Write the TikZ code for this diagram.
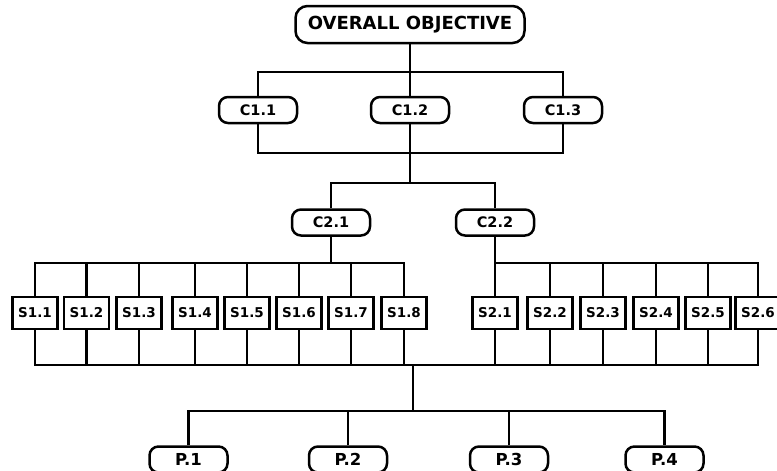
\documentclass[tikz,border=0pt]{standalone}
\usepackage{fontspec}
\setmainfont{DejaVu Sans}
\begin{document}
\begin{tikzpicture}[x=1pt,y=-1pt,
  wire/.style={line width=2.3pt},
  pill/.style={draw, line width=2.5pt, rectangle, rounded corners=9pt,
    minimum width=78pt, minimum height=26pt, inner sep=0pt,
    font=\bfseries\fontsize{14.5}{14.5}\selectfont},
  headbox/.style={pill, rounded corners=12pt, minimum width=229pt,
    minimum height=37pt, font=\bfseries\fontsize{18}{18}\selectfont},
  subbox/.style={draw, line width=2.3pt, rectangle, minimum width=45pt,
    minimum height=32pt, inner sep=0pt,
    font=\bfseries\fontsize{13.5}{13.5}\selectfont},
  projbox/.style={pill, font=\bfseries\fontsize{16.5}{16.5}\selectfont}]
\useasboundingbox (0,0) rectangle (777,471);
\fill[white] (0,0) rectangle (777,471);

% objective and criteria
\node[headbox] (top) at (410,24.5) {OVERALL OBJECTIVE};
\node[pill] (c11) at (258,110) {C1.1};
\node[pill] (c12) at (410,110) {C1.2};
\node[pill] (c13) at (563,110) {C1.3};
\node[pill] (c21) at (331,222.5) {C2.1};
\node[pill] (c22) at (495,222.5) {C2.2};

% sub-criteria
\foreach \n/\x in {1/35,2/86.5,3/139,4/195,5/247,6/299,7/351,8/404}
  \node[subbox] (s1\n) at (\x,313) {S1.\n};
\foreach \n/\x in {1/495,2/550,3/603,4/656,5/708,6/758}
  \node[subbox] (s2\n) at (\x,313) {S2.\n};

% projects
\node[projbox] (p1) at (188.5,459.5) {P.1};
\node[projbox] (p2) at (348,459.5) {P.2};
\node[projbox] (p3) at (509,459.5) {P.3};
\node[projbox] (p4) at (664.5,459.5) {P.4};

% bus levels
\coordinate (j1) at (410,72);
\coordinate (j2) at (410,153);
\coordinate (j3) at (410,183);
\coordinate (j4) at (331,263);
\coordinate (j5) at (413,365);
\coordinate (j6) at (413,411);

% objective to criteria
\draw[wire] (top.south) -- (c12.north);
\draw[wire] (c11.north) |- (c13.north |- j1) -- (c13.north);
\draw[wire] (c11.south) |- (c13.south |- j2) -- (c13.south);
\draw[wire] (c12.south) -- (j3);
\draw[wire] (c21.north) |- (c22.north |- j3) -- (c22.north);

% criteria to sub-criteria
\draw[wire] (c21.south) -- (j4);
\draw[wire] (s11.north) |- (s18.north |- j4) -- (s18.north);
\foreach \n in {2,...,7}
  \draw[wire] (s1\n.north) -- (s1\n.north |- j4);
\draw[wire] (c22.south) -- (s21.north);
\draw[wire] (s21.north |- j4) -| (s26.north);
\foreach \n in {2,...,5}
  \draw[wire] (s2\n.north) -- (s2\n.north |- j4);

% sub-criteria to projects
\draw[wire] (s11.south) |- (s26.south |- j5) -- (s26.south);
\foreach \n in {2,...,8}
  \draw[wire] (s1\n.south) -- (s1\n.south |- j5);
\foreach \n in {1,...,5}
  \draw[wire] (s2\n.south) -- (s2\n.south |- j5);
\draw[wire] (j5) -- (j6);
\draw[wire] (p1.north) |- (p4.north |- j6) -- (p4.north);
\draw[wire] (p2.north) -- (p2.north |- j6);
\draw[wire] (p3.north) -- (p3.north |- j6);
\end{tikzpicture}
\end{document}
